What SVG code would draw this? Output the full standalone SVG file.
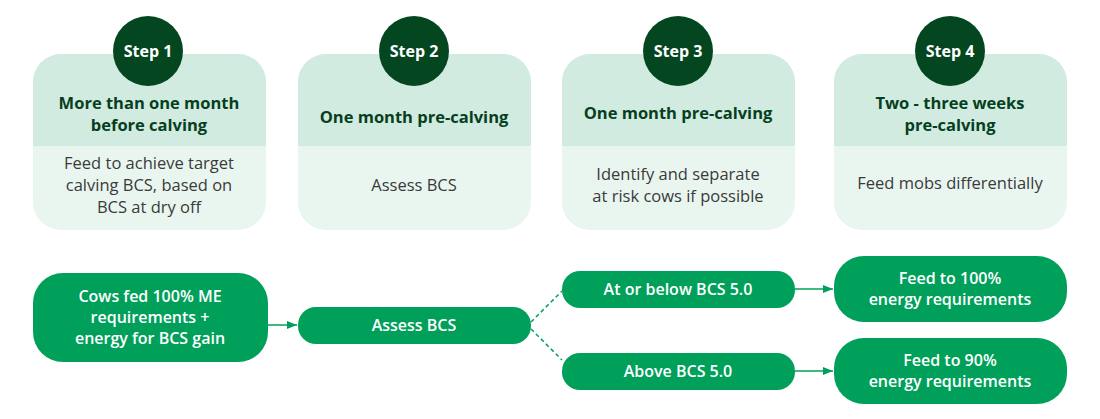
<svg xmlns="http://www.w3.org/2000/svg" width="1100" height="419" viewBox="0 0 1100 419">
<style>
.body{fill:#e9f6f0}.head{fill:#d1ebe1}.badge{fill:#03461f}
.bt{font-family:"Open Sans","Liberation Sans",sans-serif;font-weight:700;font-size:16px;fill:#fff;text-anchor:middle}
.ht{font-family:"Open Sans","Liberation Sans",sans-serif;font-weight:700;font-size:16.5px;fill:#063f1d;text-anchor:middle}
.dt{font-family:"Open Sans","Liberation Sans",sans-serif;font-size:16.5px;fill:#3a3a3a;text-anchor:middle}
.g{fill:#00a05a}
.gt{font-family:"Open Sans","Liberation Sans",sans-serif;font-size:16px;fill:#fff;text-anchor:middle;font-weight:600}
.c{stroke:#00a05a;stroke-width:1.5;fill:none}
.d{stroke:#00a05a;stroke-width:1.5;fill:none;stroke-dasharray:4 3}
</style>
<defs>
<marker id="a" viewBox="0 0 10 10" refX="10" refY="5" markerWidth="7" markerHeight="7" orient="auto"><path d="M0,1 L10,5 L0,9 z" fill="#00a05a"/></marker>
<clipPath id="cp1"><rect x="33" y="54" width="233" height="176" rx="28"/></clipPath>
<clipPath id="cp2"><rect x="298" y="54" width="233" height="176" rx="28"/></clipPath>
<clipPath id="cp3"><rect x="562" y="54" width="233" height="176" rx="28"/></clipPath>
<clipPath id="cp4"><rect x="834" y="54" width="233" height="176" rx="28"/></clipPath>
</defs>
<g id="step1">
<rect class="body" x="33" y="54" width="233" height="176" rx="28"/>
<rect class="head" x="33" y="54" width="233" height="92" clip-path="url(#cp1)"/>
<circle class="badge" cx="148" cy="51" r="35"/>
<text class="bt" x="148" y="57">Step 1</text>
<text class="ht" x="149" y="109">More than one month</text>
<text class="ht" x="149" y="131">before calving</text>
<text class="dt" x="149" y="169">Feed to achieve target</text>
<text class="dt" x="149" y="191">calving BCS, based on</text>
<text class="dt" x="149" y="213">BCS at dry off</text>
</g>
<g id="step2">
<rect class="body" x="298" y="54" width="233" height="176" rx="28"/>
<rect class="head" x="298" y="54" width="233" height="92" clip-path="url(#cp2)"/>
<circle class="badge" cx="414" cy="51" r="35"/>
<text class="bt" x="414" y="57">Step 2</text>
<text class="ht" x="414" y="123">One month pre-calving</text>
<text class="dt" x="414" y="191">Assess BCS</text>
</g>
<g id="step3">
<rect class="body" x="562" y="54" width="233" height="176" rx="28"/>
<rect class="head" x="562" y="54" width="233" height="92" clip-path="url(#cp3)"/>
<circle class="badge" cx="678" cy="51" r="35"/>
<text class="bt" x="678" y="57">Step 3</text>
<text class="ht" x="678" y="119">One month pre-calving</text>
<text class="dt" x="678" y="180">Identify and separate</text>
<text class="dt" x="678" y="202">at risk cows if possible</text>
</g>
<g id="step4">
<rect class="body" x="834" y="54" width="233" height="176" rx="28"/>
<rect class="head" x="834" y="54" width="233" height="92" clip-path="url(#cp4)"/>
<circle class="badge" cx="950" cy="51" r="35"/>
<text class="bt" x="950" y="57">Step 4</text>
<text class="ht" x="950" y="109">Two - three weeks</text>
<text class="ht" x="950" y="131">pre-calving</text>
<text class="dt" x="950" y="189">Feed mobs differentially</text>
</g>
<g id="n1"><rect class="g" x="33" y="273" width="235" height="89" rx="30"/>
<text class="gt" x="150" y="302">Cows fed 100% ME</text><text class="gt" x="150" y="323">requirements +</text><text class="gt" x="150" y="344">energy for BCS gain</text></g>
<g id="n2"><rect class="g" x="298" y="307" width="233" height="37" rx="18"/><text class="gt" x="414" y="331">Assess BCS</text></g>
<g id="n3"><rect class="g" x="562" y="271" width="233" height="37" rx="18"/><text class="gt" x="678" y="295">At or below BCS 5.0</text></g>
<g id="n4"><rect class="g" x="562" y="353" width="233" height="37" rx="18"/><text class="gt" x="678" y="377">Above BCS 5.0</text></g>
<g id="n5"><rect class="g" x="834" y="256" width="233" height="66" rx="30"/><text class="gt" x="950" y="284">Feed to 100%</text><text class="gt" x="950" y="305">energy requirements</text></g>
<g id="n6"><rect class="g" x="834" y="338" width="233" height="66" rx="30"/><text class="gt" x="950" y="366">Feed to 90%</text><text class="gt" x="950" y="387">energy requirements</text></g>
<g id="connectors">
<line class="c" x1="268" y1="325" x2="297" y2="325" marker-end="url(#a)"/>
<line class="d" x1="531" y1="322" x2="562" y2="291"/>
<line class="d" x1="531" y1="329" x2="562" y2="360"/>
<line class="c" x1="795" y1="289" x2="833" y2="289" marker-end="url(#a)"/>
<line class="c" x1="795" y1="371" x2="833" y2="371" marker-end="url(#a)"/>
</g>
</svg>
